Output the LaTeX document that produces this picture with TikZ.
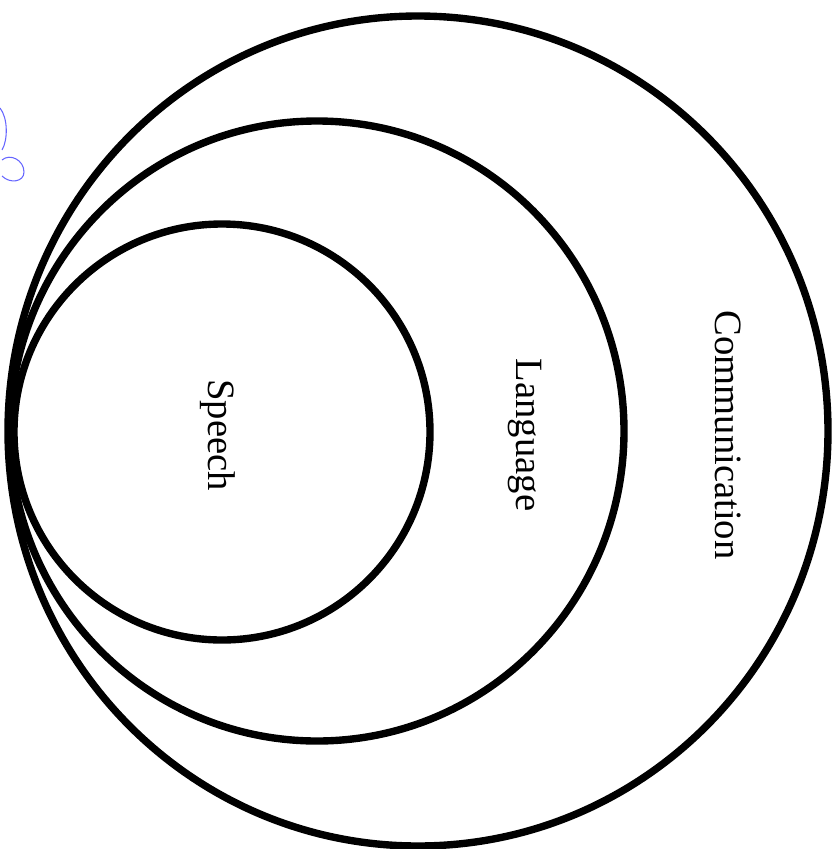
\documentclass[tikz,border=0pt]{standalone}
\usepackage{fontspec}
\setmainfont{Liberation Serif}
\usetikzlibrary{calc}

\begin{document}
\begin{tikzpicture}[x=0.02cm,y=-0.02cm]
    \useasboundingbox (0,0) rectangle (838,849);
    \tikzset{ring/.style={line width=4.2pt},
             lbl/.style={rotate=-90,font=\fontsize{22}{25}\selectfont}}
    \coordinate (O1) at (418,431);
    \coordinate (O2) at (317,431);
    \coordinate (O3) at (222,432);
    
    \draw[ring] (O1) ellipse (410 and 415);
    \draw[ring] (O2) ellipse (307 and 310);
    \draw[ring] (O3) ellipse (208 and 208);
    
    % pen marks
    \draw[blue!60,line width=0.6pt] (0,108) .. controls (8,118) and (8,140) .. (2,150);
    \draw[blue!60,line width=0.6pt] (2,160) .. controls (10,153) and (24,160) .. (24,172)
        .. controls (24,182) and (10,184) .. (2,176);
    
    \node[lbl] (speech) at (218,435) {Speech};
    \node[lbl] (language) at (525,435) {Language};
    \node[lbl] (comm) at (728,435) {Communication};
\end{tikzpicture}
\end{document}
